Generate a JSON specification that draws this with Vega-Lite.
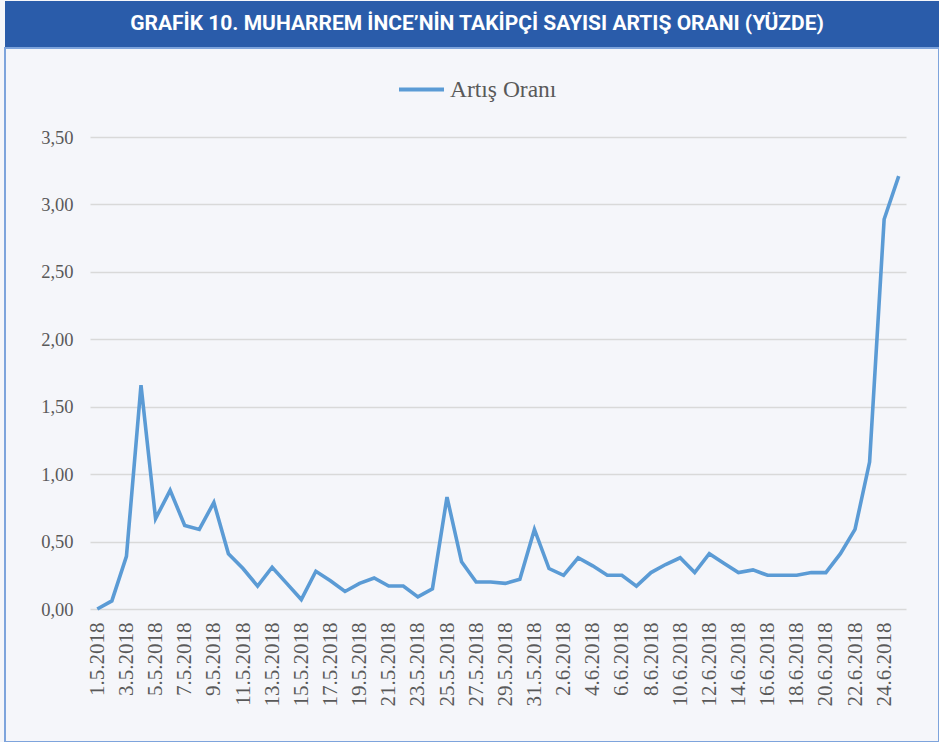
{
  "$schema": "https://vega.github.io/schema/vega-lite/v6.json",
  "padding": {"left": 4, "top": 1, "right": 0, "bottom": 0},
  "background": "#f5f6fa",
  "spacing": 0,
  "config": {"view": {"stroke": null}, "concat": {"spacing": 0}},
  "datasets": {
    "series": [
      {"date": "1.5.2018", "value": 0.00, "series": "Artış Oranı"},
      {"date": "2.5.2018", "value": 0.06, "series": "Artış Oranı"},
      {"date": "3.5.2018", "value": 0.39, "series": "Artış Oranı"},
      {"date": "4.5.2018", "value": 1.66, "series": "Artış Oranı"},
      {"date": "5.5.2018", "value": 0.67, "series": "Artış Oranı"},
      {"date": "6.5.2018", "value": 0.88, "series": "Artış Oranı"},
      {"date": "7.5.2018", "value": 0.62, "series": "Artış Oranı"},
      {"date": "8.5.2018", "value": 0.59, "series": "Artış Oranı"},
      {"date": "9.5.2018", "value": 0.79, "series": "Artış Oranı"},
      {"date": "10.5.2018", "value": 0.41, "series": "Artış Oranı"},
      {"date": "11.5.2018", "value": 0.30, "series": "Artış Oranı"},
      {"date": "12.5.2018", "value": 0.17, "series": "Artış Oranı"},
      {"date": "13.5.2018", "value": 0.31, "series": "Artış Oranı"},
      {"date": "14.5.2018", "value": 0.19, "series": "Artış Oranı"},
      {"date": "15.5.2018", "value": 0.07, "series": "Artış Oranı"},
      {"date": "16.5.2018", "value": 0.28, "series": "Artış Oranı"},
      {"date": "17.5.2018", "value": 0.21, "series": "Artış Oranı"},
      {"date": "18.5.2018", "value": 0.13, "series": "Artış Oranı"},
      {"date": "19.5.2018", "value": 0.19, "series": "Artış Oranı"},
      {"date": "20.5.2018", "value": 0.23, "series": "Artış Oranı"},
      {"date": "21.5.2018", "value": 0.17, "series": "Artış Oranı"},
      {"date": "22.5.2018", "value": 0.17, "series": "Artış Oranı"},
      {"date": "23.5.2018", "value": 0.09, "series": "Artış Oranı"},
      {"date": "24.5.2018", "value": 0.15, "series": "Artış Oranı"},
      {"date": "25.5.2018", "value": 0.83, "series": "Artış Oranı"},
      {"date": "26.5.2018", "value": 0.35, "series": "Artış Oranı"},
      {"date": "27.5.2018", "value": 0.20, "series": "Artış Oranı"},
      {"date": "28.5.2018", "value": 0.20, "series": "Artış Oranı"},
      {"date": "29.5.2018", "value": 0.19, "series": "Artış Oranı"},
      {"date": "30.5.2018", "value": 0.22, "series": "Artış Oranı"},
      {"date": "31.5.2018", "value": 0.59, "series": "Artış Oranı"},
      {"date": "1.6.2018", "value": 0.30, "series": "Artış Oranı"},
      {"date": "2.6.2018", "value": 0.25, "series": "Artış Oranı"},
      {"date": "3.6.2018", "value": 0.38, "series": "Artış Oranı"},
      {"date": "4.6.2018", "value": 0.32, "series": "Artış Oranı"},
      {"date": "5.6.2018", "value": 0.25, "series": "Artış Oranı"},
      {"date": "6.6.2018", "value": 0.25, "series": "Artış Oranı"},
      {"date": "7.6.2018", "value": 0.17, "series": "Artış Oranı"},
      {"date": "8.6.2018", "value": 0.27, "series": "Artış Oranı"},
      {"date": "9.6.2018", "value": 0.33, "series": "Artış Oranı"},
      {"date": "10.6.2018", "value": 0.38, "series": "Artış Oranı"},
      {"date": "11.6.2018", "value": 0.27, "series": "Artış Oranı"},
      {"date": "12.6.2018", "value": 0.41, "series": "Artış Oranı"},
      {"date": "13.6.2018", "value": 0.34, "series": "Artış Oranı"},
      {"date": "14.6.2018", "value": 0.27, "series": "Artış Oranı"},
      {"date": "15.6.2018", "value": 0.29, "series": "Artış Oranı"},
      {"date": "16.6.2018", "value": 0.25, "series": "Artış Oranı"},
      {"date": "17.6.2018", "value": 0.25, "series": "Artış Oranı"},
      {"date": "18.6.2018", "value": 0.25, "series": "Artış Oranı"},
      {"date": "19.6.2018", "value": 0.27, "series": "Artış Oranı"},
      {"date": "20.6.2018", "value": 0.27, "series": "Artış Oranı"},
      {"date": "21.6.2018", "value": 0.41, "series": "Artış Oranı"},
      {"date": "22.6.2018", "value": 0.59, "series": "Artış Oranı"},
      {"date": "23.6.2018", "value": 1.09, "series": "Artış Oranı"},
      {"date": "24.6.2018", "value": 2.89, "series": "Artış Oranı"},
      {"date": "25.6.2018", "value": 3.21, "series": "Artış Oranı"}
    ]
  },
  "vconcat": [
    {
      "width": 934,
      "height": 46,
      "view": {"fill": "#2a5caa", "stroke": null},
      "data": {"values": [{"t": "GRAFİK 10. MUHARREM İNCE’NİN TAKİPÇİ SAYISI ARTIŞ ORANI (YÜZDE)"}]},
      "mark": {"type": "text", "color": "#ffffff", "font": "Roboto, sans-serif", "fontWeight": "bold", "fontSize": 21, "dx": 5, "baseline": "middle", "align": "center"},
      "encoding": {"text": {"field": "t", "type": "nominal"}}
    },
    {
      "width": 934,
      "height": 694,
      "view": {"fill": "#f5f6fa", "stroke": "#7ea4dc", "strokeWidth": 2},
      "data": {"name": "series"},
      "mark": {"type": "line", "strokeWidth": 3.6},
      "encoding": {
        "x": {
          "field": "date",
          "type": "ordinal",
          "sort": null,
          "scale": {"type": "point", "padding": 0.5, "range": [85, 901]},
          "axis": {
            "title": null,
            "offset": -133,
            "domain": false,
            "ticks": false,
            "tickSize": 0,
            "grid": false,
            "labelAngle": -90,
            "labelAlign": "right",
            "labelBaseline": "middle",
            "labelPadding": 13,
            "labelFont": "Liberation Serif",
            "labelFontSize": 21,
            "labelColor": "#595959",
            "labelOverlap": false,
            "values": ["1.5.2018", "3.5.2018", "5.5.2018", "7.5.2018", "9.5.2018", "11.5.2018", "13.5.2018", "15.5.2018", "17.5.2018", "19.5.2018", "21.5.2018", "23.5.2018", "25.5.2018", "27.5.2018", "29.5.2018", "31.5.2018", "2.6.2018", "4.6.2018", "6.6.2018", "8.6.2018", "10.6.2018", "12.6.2018", "14.6.2018", "16.6.2018", "18.6.2018", "20.6.2018", "22.6.2018", "24.6.2018"]
          }
        },
        "y": {
          "field": "value",
          "type": "quantitative",
          "scale": {"domain": [0, 3.5], "nice": false, "zero": true, "range": [561, 89]},
          "axis": {
            "title": null,
            "offset": -85,
            "domain": false,
            "ticks": false,
            "tickSize": 0,
            "values": [0, 0.5, 1, 1.5, 2, 2.5, 3, 3.5],
            "grid": true,
            "gridColor": "#d9d9d9",
            "gridWidth": 1.4,
            "labelPadding": 17,
            "labelFont": "Liberation Serif",
            "labelFontSize": 18.5,
            "labelColor": "#595959",
            "labelExpr": "replace(format(datum.value, '.2f'), '.', ',')"
          }
        },
        "color": {
          "field": "series",
          "type": "nominal",
          "scale": {"range": ["#5b9bd5"]},
          "legend": {
            "title": null,
            "orient": "none",
            "legendX": 392,
            "legendY": 64,
            "symbolType": "stroke",
            "symbolSize": 2025,
            "symbolStrokeWidth": 4,
            "labelFont": "Liberation Serif",
            "labelFontSize": 23.5,
            "labelColor": "#595959",
            "labelOffset": 4,
            "padding": 0
          }
        }
      }
    }
  ]
}
